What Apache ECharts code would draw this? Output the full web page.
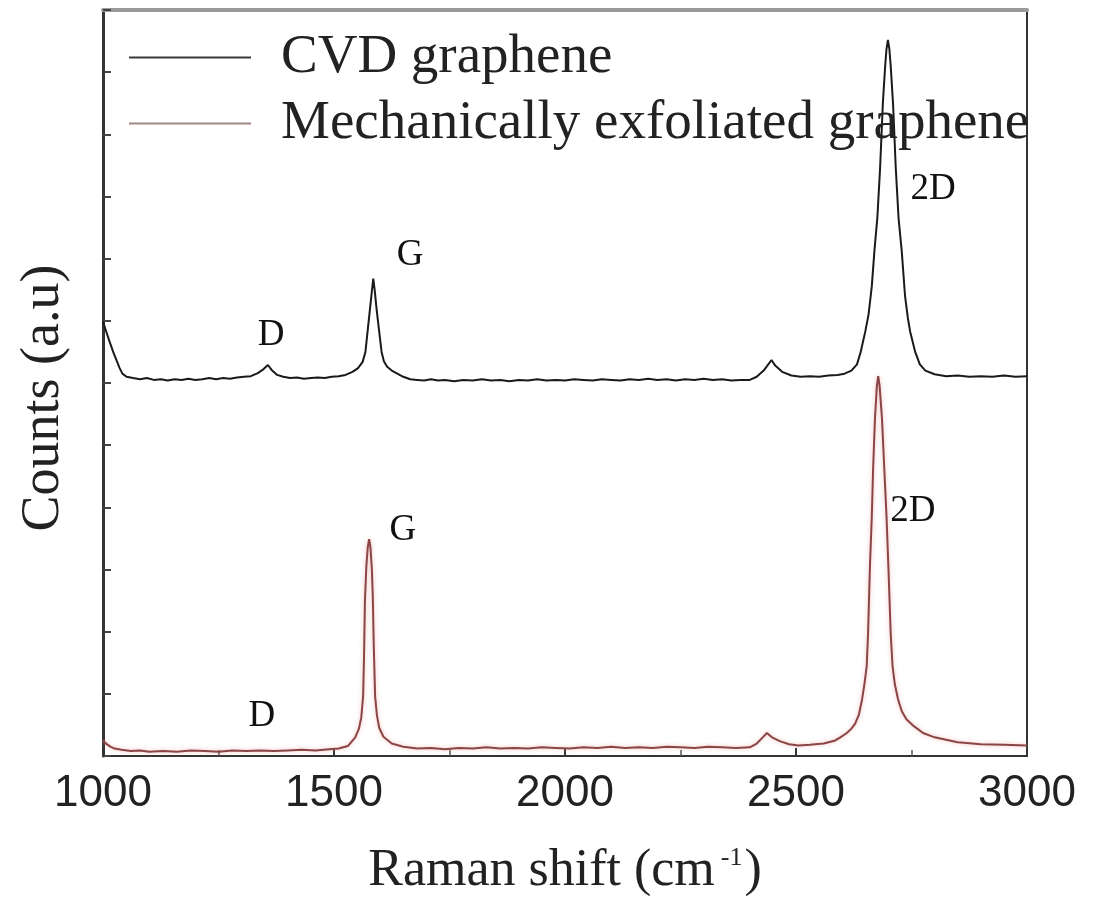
<!DOCTYPE html>
<html>
<head>
<meta charset="utf-8">
<script src="https://cdn.jsdelivr.net/npm/echarts@6/dist/echarts.min.js"></script>
<style>
html,body{margin:0;padding:0;background:#fff;}
#chart{width:1097px;height:902px;}
</style>
</head>
<body>
<div id="chart"></div>
<script>
// ---- data ----
const seriesNames = ['CVD graphene', 'Mechanically exfoliated graphene'];

const cvdShift = [1000,1005,1010,1015,1022,1030,1036,1042,1051,1065,1080,1095,1110,1125,1140,1155,1170,1185,1200,1215,1230,1245,1260,1275,1290,1305,1320,1335,1347,1357,1365,1377,1390,1405,1420,1435,1450,1465,1480,1495,1510,1525,1540,1552,1562,1568,1573,1578,1582,1585,1588,1592,1597,1603,1608,1615,1625,1635,1650,1665,1680,1695,1710,1725,1740,1760,1780,1800,1820,1840,1860,1880,1900,1920,1940,1960,1980,2000,2020,2040,2060,2080,2100,2120,2140,2160,2180,2200,2220,2240,2260,2280,2300,2320,2340,2360,2380,2400,2415,2430,2440,2447,2455,2470,2490,2510,2530,2550,2570,2590,2605,2620,2632,2640,2650,2657,2664,2670,2676,2682,2688,2693,2696,2699,2702,2705,2710,2716,2722,2729,2736,2742,2747,2758,2768,2780,2800,2825,2850,2875,2900,2925,2950,2975,3000];
const cvdCounts = [6.99,6.87,6.76,6.65,6.50,6.35,6.24,6.15,6.10,6.08,6.06,6.08,6.05,6.06,6.04,6.06,6.05,6.07,6.05,6.06,6.08,6.06,6.08,6.07,6.09,6.10,6.11,6.16,6.22,6.29,6.21,6.13,6.10,6.08,6.09,6.07,6.08,6.09,6.08,6.10,6.11,6.13,6.18,6.24,6.34,6.50,6.85,7.20,7.48,7.68,7.50,7.20,6.88,6.50,6.35,6.26,6.20,6.16,6.10,6.06,6.05,6.04,6.06,6.04,6.05,6.03,6.05,6.04,6.06,6.04,6.05,6.03,6.05,6.04,6.06,6.04,6.05,6.04,6.06,6.05,6.04,6.06,6.05,6.04,6.06,6.05,6.07,6.05,6.06,6.04,6.06,6.05,6.07,6.05,6.06,6.04,6.05,6.05,6.10,6.20,6.30,6.37,6.28,6.18,6.12,6.10,6.11,6.10,6.12,6.13,6.15,6.20,6.30,6.50,6.83,7.10,7.55,8.15,8.65,9.45,10.50,11.10,11.38,11.52,11.38,11.10,10.50,9.45,8.65,8.11,7.40,7.05,6.83,6.50,6.30,6.20,6.14,6.11,6.12,6.10,6.11,6.10,6.12,6.10,6.11];

const exfShift = [1000,1008,1016,1025,1040,1060,1080,1100,1130,1160,1190,1220,1250,1280,1310,1340,1370,1400,1430,1460,1490,1510,1530,1546,1554,1559,1563,1565,1567,1570,1573,1576,1579,1582,1584,1586,1589,1593,1598,1607,1625,1650,1680,1710,1740,1770,1800,1830,1860,1890,1920,1950,1980,2010,2040,2070,2100,2130,2160,2190,2220,2250,2280,2310,2340,2370,2400,2415,2428,2437,2448,2465,2485,2505,2530,2560,2585,2596,2610,2620,2628,2636,2643,2648,2653,2656,2660,2664,2667,2671,2675,2678,2681,2686,2691,2696,2700,2705,2709,2714,2721,2729,2739,2755,2775,2800,2850,2900,2950,3000];
const exfCounts = [0.25,0.19,0.15,0.12,0.10,0.08,0.09,0.07,0.08,0.07,0.09,0.08,0.07,0.09,0.08,0.09,0.08,0.09,0.10,0.09,0.11,0.12,0.16,0.30,0.44,0.62,0.96,1.60,2.50,3.05,3.35,3.49,3.35,3.00,2.56,1.80,0.96,0.65,0.45,0.31,0.20,0.15,0.12,0.13,0.11,0.13,0.12,0.14,0.12,0.13,0.12,0.14,0.13,0.12,0.14,0.13,0.15,0.13,0.14,0.13,0.15,0.14,0.13,0.15,0.14,0.13,0.14,0.20,0.30,0.37,0.30,0.24,0.19,0.17,0.18,0.20,0.25,0.30,0.37,0.44,0.52,0.66,0.91,1.15,1.44,1.97,3.04,3.84,4.64,5.44,5.95,6.11,5.95,5.44,4.64,3.84,3.04,1.97,1.44,1.15,0.91,0.72,0.59,0.48,0.37,0.30,0.22,0.19,0.18,0.17];

const peakLabelText = ['D','G','2D','D','G','2D'];
const peakLabelShift = [1364,1665,2797,1344,1649,2753];
const peakLabelCounts = [6.77,8.05,9.12,0.64,3.63,3.94];

const xTickMin = 1000, xTickMax = 3000, xTickStep = 500;

// ---- build chart ----
const zip = (a, b) => a.map((v, i) => [v, b[i]]);
const serif = 'Liberation Serif, Times New Roman, serif';

const chart = echarts.init(document.getElementById('chart'), null, {renderer: 'canvas'});
chart.setOption({
  animation: false,
  backgroundColor: '#ffffff',
  grid: {left: 103, right: 70, top: 10, bottom: 141, show: false},
  legend: {
    data: [
      {name: seriesNames[0], icon: 'rect', itemStyle: {color: '#3a3a3a'}},
      {name: seriesNames[1], icon: 'rect', itemStyle: {color: '#a08585'}}
    ],
    orient: 'vertical',
    left: 124,
    top: 25,
    itemWidth: 122,
    itemHeight: 2,
    itemGap: 11,
    textStyle: {fontFamily: serif, fontSize: 55, color: '#222', padding: [0, 0, 0, 25]},
    selectedMode: false
  },
  xAxis: [{
    type: 'value', min: xTickMin, max: xTickMax, interval: xTickStep,
    position: 'bottom',
    axisLine: {show: true, onZero: false, lineStyle: {color: '#333', width: 2}},
    axisTick: {show: true, inside: true, length: 8, lineStyle: {color: '#333', width: 2}},
    minorTick: {show: true, splitNumber: 2, length: 6, lineStyle: {color: '#555', width: 1.5}},
    axisLabel: {fontFamily: 'Liberation Sans, Arial, sans-serif', fontSize: 44, color: '#222', margin: 16,
      formatter: v => String(v)},
    splitLine: {show: false},
    name: '{a|Raman shift (cm}{s|-1}{a|)}',
    nameLocation: 'middle',
    nameGap: 89,
    nameTextStyle: {
      rich: {
        a: {fontFamily: serif, fontSize: 52, color: '#222'},
        s: {fontFamily: serif, fontSize: 26, color: '#222', verticalAlign: 'top', padding: [0, 2, 22, 6]}
      }
    }
  }, {
    type: 'value', min: xTickMin, max: xTickMax, position: 'top',
    axisLine: {show: true, onZero: false, lineStyle: {color: '#9a9a9a', width: 4}},
    axisTick: {show: false}, axisLabel: {show: false}, splitLine: {show: false}
  }],
  yAxis: [{
    type: 'value', min: 0, max: 12, interval: 1,
    position: 'left',
    axisLine: {show: true, onZero: false, lineStyle: {color: '#333', width: 3}},
    axisTick: {show: true, inside: true, length: 8, lineStyle: {color: '#444', width: 2}},
    axisLabel: {show: false},
    splitLine: {show: false},
    name: 'Counts (a.u)',
    nameLocation: 'middle',
    nameGap: 32,
    nameRotate: 90,
    nameTextStyle: {fontFamily: serif, fontSize: 54, color: '#222', padding: [0, 30, 0, 0]}
  }, {
    type: 'value', min: 0, max: 12, position: 'right',
    axisLine: {show: true, onZero: false, lineStyle: {color: '#333', width: 2}},
    axisTick: {show: false}, axisLabel: {show: false}, splitLine: {show: false}
  }],
  series: [{
    name: seriesNames[0], type: 'line', data: zip(cvdShift, cvdCounts),
    symbol: 'none', smooth: false,
    lineStyle: {color: '#1a1a1a', width: 2},
    itemStyle: {color: '#2a2a2a'}
  }, {
    name: seriesNames[1], type: 'line', data: zip(exfShift, exfCounts),
    symbol: 'none', smooth: false,
    lineStyle: {color: '#8b4545', width: 2, shadowColor: 'rgba(235,140,140,0.6)', shadowBlur: 4},
    itemStyle: {color: '#a07f7f'}
  }, {
    name: 'labels', type: 'scatter', symbolSize: 0, silent: true,
    data: peakLabelText.map((t, i) => ({name: t, value: [peakLabelShift[i], peakLabelCounts[i]]})),
    label: {show: true, position: 'inside', formatter: p => p.name, fontFamily: serif, fontSize: 37,
      color: '#111', textBorderWidth: 0, opacity: 1}
  }]
});
</script>
</body>
</html>
